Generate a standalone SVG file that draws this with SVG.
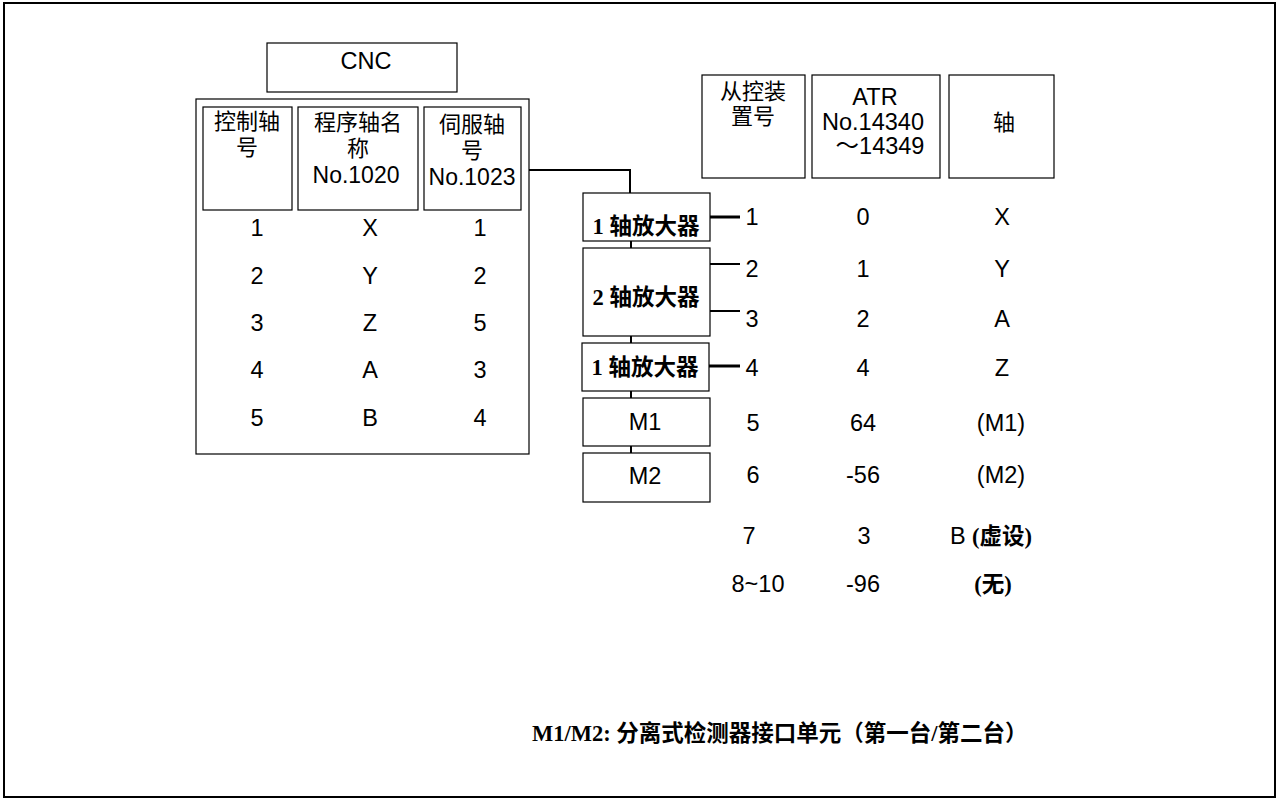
<svg xmlns="http://www.w3.org/2000/svg" width="1277" height="799" viewBox="0 0 1277 799">
<style>
.box{fill:#fff;stroke:#000;stroke-width:1.2}
.t{font-family:"Liberation Sans","Noto Sans CJK SC",sans-serif;font-size:23.5px;fill:#000;text-anchor:middle}
.h{font-family:"Liberation Sans","Noto Sans CJK SC",sans-serif;font-size:22px;fill:#000;text-anchor:middle}
.s{font-family:"Liberation Sans",sans-serif;font-size:23px;fill:#000;text-anchor:middle}
.b{font-family:"Liberation Serif","Noto Sans CJK SC",serif;font-size:22.5px;font-weight:bold;fill:#000;text-anchor:middle}
.ln{stroke:#000;stroke-width:2;fill:none}
.lk{stroke:#000;stroke-width:3;fill:none}
</style>
<rect x="4" y="3" width="1271" height="794" fill="#fff" stroke="#000" stroke-width="2"/>

<g id="cnc">
<rect class="box" x="267" y="43" width="190" height="49"/>
<text class="t" x="366" y="69">CNC</text>
</g>

<g id="cnc-table">
<rect class="box" x="196" y="99" width="333" height="355"/>
<rect class="box" x="203" y="107" width="89" height="103"/>
<rect class="box" x="298" y="107" width="120" height="103"/>
<rect class="box" x="424" y="107" width="97" height="103"/>
<text class="h" x="247" y="129">控制轴</text>
<text class="h" x="247" y="155">号</text>
<text class="h" x="358" y="130">程序轴名</text>
<text class="h" x="358" y="156">称</text>
<text class="s" x="356" y="183">No.1020</text>
<text class="h" x="472" y="132">伺服轴</text>
<text class="h" x="472" y="158">号</text>
<text class="s" x="472" y="185">No.1023</text>
<text class="t" x="257" y="236">1</text><text class="t" x="370" y="236">X</text><text class="t" x="480" y="236">1</text>
<text class="t" x="257" y="284">2</text><text class="t" x="370" y="284">Y</text><text class="t" x="480" y="284">2</text>
<text class="t" x="257" y="331">3</text><text class="t" x="370" y="331">Z</text><text class="t" x="480" y="331">5</text>
<text class="t" x="257" y="378">4</text><text class="t" x="370" y="378">A</text><text class="t" x="480" y="378">3</text>
<text class="t" x="257" y="426">5</text><text class="t" x="370" y="426">B</text><text class="t" x="480" y="426">4</text>
</g>

<g id="connectors">
<polyline class="ln" points="529,170 630,170 630,193"/>
<line class="ln" x1="631" y1="241" x2="631" y2="248"/>
<line class="ln" x1="631" y1="336" x2="631" y2="343"/>
<line class="ln" x1="631" y1="391" x2="631" y2="398"/>
<line class="ln" x1="631" y1="446" x2="631" y2="453"/>
<line class="lk" x1="710" y1="217" x2="740" y2="217"/>
<line class="ln" x1="710" y1="264" x2="740" y2="264"/>
<line class="ln" x1="710" y1="311" x2="740" y2="311"/>
<line class="lk" x1="709" y1="366" x2="740" y2="366"/>
</g>

<g id="amp1">
<rect class="box" x="583" y="193" width="127" height="48"/>
<text class="b" x="646" y="234">1 轴放大器</text>
</g>
<g id="amp2">
<rect class="box" x="583" y="248" width="127" height="88"/>
<text class="b" x="646" y="305">2 轴放大器</text>
</g>
<g id="amp3">
<rect class="box" x="582" y="343" width="127" height="48"/>
<text class="b" x="645" y="375">1 轴放大器</text>
</g>
<g id="m1">
<rect class="box" x="583" y="398" width="127" height="48"/>
<text class="t" x="645" y="430">M1</text>
</g>
<g id="m2">
<rect class="box" x="583" y="453" width="127" height="49"/>
<text class="t" x="645" y="484">M2</text>
</g>

<g id="slave-table">
<rect class="box" x="702" y="75" width="103" height="103"/>
<text class="h" x="753" y="99">从控装</text>
<text class="h" x="753" y="124">置号</text>
<rect class="box" x="812" y="75" width="128" height="103"/>
<text class="t" x="875" y="105">ATR</text>
<text class="t" x="873" y="130">No.14340</text>
<text class="t" x="880" y="154">～14349</text>
<rect class="box" x="949" y="75" width="105" height="103"/>
<text class="h" x="1004" y="130">轴</text>

<text class="t" x="752" y="225">1</text><text class="t" x="863" y="225">0</text><text class="t" x="1002" y="225">X</text>
<text class="t" x="752" y="277">2</text><text class="t" x="863" y="277">1</text><text class="t" x="1002" y="277">Y</text>
<text class="t" x="752" y="327">3</text><text class="t" x="863" y="327">2</text><text class="t" x="1002" y="327">A</text>
<text class="t" x="752" y="376">4</text><text class="t" x="863" y="376">4</text><text class="t" x="1002" y="376">Z</text>
<text class="t" x="753" y="431">5</text><text class="t" x="863" y="431">64</text><text class="t" x="1001" y="431">(M1)</text>
<text class="t" x="753" y="483">6</text><text class="t" x="863" y="483">-56</text><text class="t" x="1001" y="483">(M2)</text>
<text class="t" x="749" y="544">7</text><text class="t" x="864" y="544">3</text>
<text class="t" x="991" y="544">B <tspan class="b" style="text-anchor:start">(虚设)</tspan></text>
<text class="t" x="758" y="592">8~10</text><text class="t" x="863" y="592">-96</text>
<text class="b" x="993" y="592">(无)</text>
</g>

<g id="note">
<text class="b" x="532" y="741" style="text-anchor:start">M1/M2: 分离式检测器接口单元（第一台/第二台）</text>
</g>
</svg>
